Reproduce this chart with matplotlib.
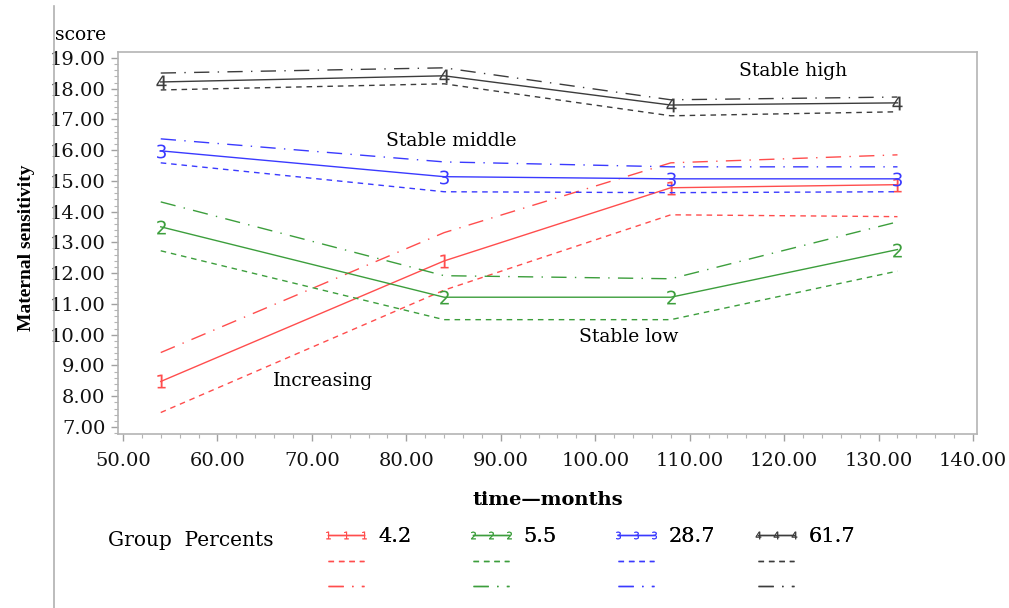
import matplotlib
matplotlib.use("Agg")
import matplotlib.pyplot as plt
from matplotlib.ticker import MultipleLocator, FormatStrFormatter
from matplotlib.lines import Line2D

plt.rcParams['lines.scale_dashes'] = False

# data
months = [54, 84, 108, 132]
groups = ['1', '2', '3', '4']
percents = ['4.2', '5.5', '28.7', '61.7']
colors = ['#ff4d4d', '#3c9e3c', '#3a3aff', '#3c3c3c']

est = [[8.48, 12.40, 14.78, 14.88],
       [13.51, 11.22, 11.22, 12.77],
       [15.98, 15.14, 15.07, 15.07],
       [18.22, 18.42, 17.47, 17.54]]
lower = [[7.47, 11.45, 13.90, 13.84],
         [12.73, 10.49, 10.49, 12.07],
         [15.59, 14.65, 14.62, 14.65],
         [17.96, 18.16, 17.12, 17.25]]
upper = [[9.42, 13.32, 15.59, 15.85],
         [14.32, 11.92, 11.82, 13.67],
         [16.37, 15.62, 15.46, 15.46],
         [18.51, 18.68, 17.64, 17.73]]

notes = ['Stable high', 'Stable middle', 'Stable low', 'Increasing']
note_x = [115.2, 77.8, 98.3, 65.9]
note_y = [18.59, 16.29, 9.93, 8.48]

serif = 'DejaVu Serif'

fig = plt.figure(figsize=(10.09, 6.08), dpi=100)
ax = fig.add_axes([0.1169, 0.2862, 0.8514, 0.6283])

handles = []
for i in range(4):
    c = colors[i]
    h1, = ax.plot(months, est[i], color=c, lw=1.0, marker='$' + groups[i] + '$',
                  markersize=10, markeredgewidth=0)
    h2, = ax.plot(months, lower[i], color=c, lw=1.0, dashes=(4, 3.5))
    h3, = ax.plot(months, upper[i], color=c, lw=1.0, dashes=(11, 6, 1, 6))
    handles.append([h1, h2, h3])

for t, x, y in zip(notes, note_x, note_y):
    ax.text(x, y, t, family=serif, fontsize=13.5, ha='left', va='center')

ax.set_xlim(49.47, 140.42)
ax.set_ylim(6.772, 19.195)
ax.xaxis.set_major_locator(MultipleLocator(10))
ax.xaxis.set_minor_locator(MultipleLocator(2))
ax.yaxis.set_major_locator(MultipleLocator(1))
ax.yaxis.set_minor_locator(MultipleLocator(0.2))
ax.xaxis.set_major_formatter(FormatStrFormatter('%.2f'))
ax.yaxis.set_major_formatter(FormatStrFormatter('%.2f'))
for s in ax.spines.values():
    s.set_color('#b4b4b4')
    s.set_linewidth(1.2)
ax.tick_params(which='major', length=5, width=1, color='#a0a0a0', labelsize=14)
ax.tick_params(which='minor', length=3, width=0.8, color='#b4b4b4')
ax.tick_params(axis='x', which='major', pad=8)
ax.tick_params(axis='y', which='major', pad=4)
for lab in ax.get_xticklabels() + ax.get_yticklabels():
    lab.set_family(serif)
    lab.set_color('#111111')

ax.set_xlabel('time\u2014months', family=serif, fontweight='bold', fontsize=14)
ax.xaxis.set_label_coords(0.5, -0.15)
fig.text(27 / 1009, 1 - 248 / 608, 'Maternal sensitivity', family='Liberation Serif',
         fontweight='bold', fontsize=14, rotation=90, ha='center', va='center')
fig.text(55 / 1009, 1 - 35 / 608, 'score', family=serif, fontsize=13.5,
         ha='left', va='center')

# legend rows at the bottom
fig.text(108 / 1009, 1 - 541 / 608, 'Group  Percents', family=serif, fontsize=14.5,
         ha='left', va='center')
leg_x = [322, 467, 612, 752]
for i in range(4):
    leg = fig.legend(handles[i], [percents[i], ' ', ' '], loc='upper left',
                     bbox_to_anchor=(leg_x[i] / 1009, 1 - 527 / 608),
                     frameon=False, numpoints=3, markerscale=0.55,
                     handlelength=2.3, handletextpad=0.4, labelspacing=0.33,
                     borderpad=0, borderaxespad=0,
                     prop={'family': serif, 'size': 15})
    fig.add_artist(leg)

# thin grey border line at the left of the slide
fig.add_artist(Line2D([54 / 1009, 54 / 1009], [0, 1 - 6 / 608], color='#b0b0b0', lw=1.2))

fig.savefig('out.png', dpi=100)
